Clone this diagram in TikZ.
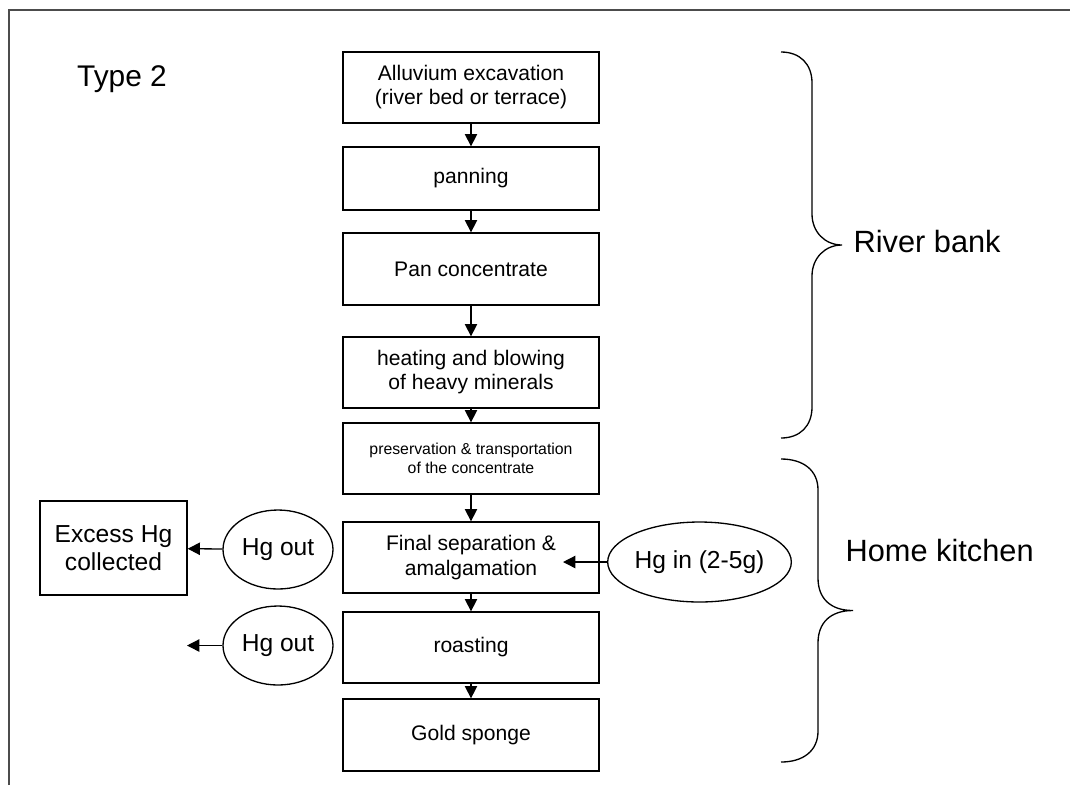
\documentclass[tikz,border=0pt]{standalone}
\usepackage{fontspec}
\setmainfont{Liberation Sans}
\usetikzlibrary{%
  arrows.meta,%
  shapes.geometric,% wg. ellipse
  positioning,%
  calc%
}

\begin{document}
\begin{tikzpicture}
  [
  x=0.02cm, y=-0.02cm,
  line width=0.75pt, draw=black, >={Triangle[width=7pt,length=7pt]},
  stepbox/.style={rectangle, draw=black, minimum width=5.12cm, minimum height=1.42cm,
    inner sep=0pt, align=center, font=\fontsize{12}{13.7}\selectfont},
  smallbox/.style={stepbox, font=\fontsize{9}{10.8}\selectfont},
  sidebox/.style={rectangle, draw=black, minimum width=2.94cm, minimum height=1.88cm,
    inner sep=0pt, align=center, font=\fontsize{14}{16}\selectfont},
  hgnode/.style={ellipse, draw=black, minimum width=2.2cm, minimum height=1.58cm,
    inner sep=0pt, font=\fontsize{14}{16}\selectfont},
  sitelabel/.style={anchor=west, inner sep=0pt, font=\fontsize{17.5}{20}\selectfont},
  ]

  \useasboundingbox (0,0) rectangle (1070,785);
  % frame
  \draw[line width=0.8pt, draw=black!70] (9,785) -- (9,10) -- (1070,10);

  \node[inner sep=0pt, font=\fontsize{17}{20}\selectfont] (type) at (122,79) {Type 2};

  % main chain
  \node[stepbox] (s1) at (471,87.5) {Alluvium excavation\\(river bed or terrace)};
  \node[stepbox, minimum height=1.26cm] (s2) at (471,178.5) {panning};
  \node[stepbox, minimum height=1.44cm] (s3) at (471,269) {Pan concentrate};
  \node[stepbox] (s4) at (471,372.5) {heating and blowing\\of heavy minerals};
  \node[smallbox] (s5) at (471,458.5) {preservation \& transportation\\of the concentrate};
  \node[stepbox] (s6) at (471,557.5) {Final separation \&\\amalgamation};
  \node[stepbox] (s7) at (471,647.5) {roasting};
  \node[stepbox, minimum height=1.44cm] (s8) at (471,735) {Gold sponge};

  \foreach \a/\b in {s1/s2,s2/s3,s3/s4,s4/s5,s5/s6,s6/s7,s7/s8} {
    \draw[->] (\a) -- (\b);
  }

  % mercury in and out
  \node[sidebox] (excess) at (113.5,548) {Excess Hg\\collected};
  \node[hgnode] (out1) at (278,549.5) {Hg out};
  \node[hgnode] (out2) at (278,645.5) {Hg out};
  \node[hgnode, minimum width=3.3cm, minimum height=1.6cm] (hgin) at (699.5,562) {Hg in (2-5g)};
  \coordinate (out2end) at (187,645.5);
  \coordinate (hginend) at (563,562);

  \draw[->] (out1) -- (excess);
  \draw[->] (out2) -- (out2end);
  \draw[->] (hgin) -- (hginend);

  % braces
  \draw (781,52) .. controls (800,52) and (812,64) .. (812,83) -- (812,214)
    .. controls (812,232) and (825,245) .. (842,245)
    .. controls (825,245) and (812,258) .. (812,276) -- (812,407)
    .. controls (812,426) and (800,438) .. (781,438);
  \draw (781,459) .. controls (803,459) and (818,470) .. (818,490) -- (818,578)
    .. controls (818,598) and (830,610.5) .. (853,610.5)
    .. controls (830,610.5) and (818,623) .. (818,643) -- (818,731)
    .. controls (818,751) and (803,762) .. (781,762);

  \node[sitelabel] (river) at (853,242) {River bank};
  \node[sitelabel] (kitchen) at (845,550) {Home kitchen};
\end{tikzpicture}
\end{document}
